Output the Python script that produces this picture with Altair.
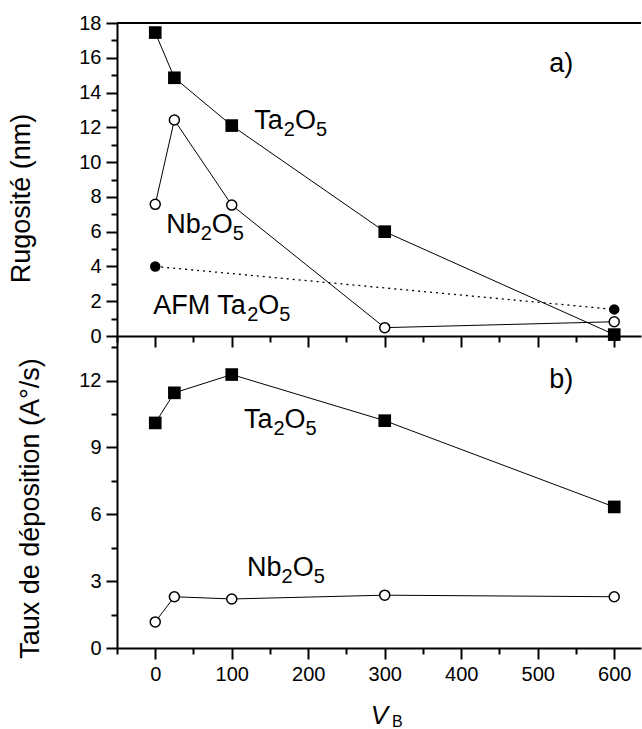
import altair as alt
import pandas as pd

# ---------------- data ----------------
vb = [0, 25, 100, 300, 600]
rug_ta = [17.45, 14.85, 12.1, 6.0, 0.08]
rug_nb = [7.57, 12.42, 7.53, 0.48, 0.82]
afm_vb = [0, 600]
afm_ta = [4.0, 1.53]
dep_ta = [10.1, 11.45, 12.27, 10.2, 6.33]
dep_nb = [1.17, 2.3, 2.2, 2.37, 2.3]

x_ticks = [-50, 0, 50, 100, 150, 200, 250, 300, 350, 400, 450, 500, 550, 600]
rug_ticks = [0, 1, 2, 3, 4, 5, 6, 7, 8, 9, 10, 11, 12, 13, 14, 15, 16, 17, 18]
dep_ticks = [0, 1.5, 3, 4.5, 6, 7.5, 9, 10.5, 12, 13.5]

# annotation anchors (data coordinates)
top_notes = [("Ta2O5", 129.5, 11.9), ("Nb2O5", 14.4, 5.94), ("AFM Ta2O5", -2.6, 1.26), ("a)", 515, 15.2)]
bot_notes = [("Ta2O5", 116, 9.87), ("Nb2O5", 120, 3.22), ("b)", 515, 11.67)]

# ---------------- style ----------------
FONT = "Liberation Sans"
W = 524
H1 = 313
H2 = 312
XMAX = 635
MAIN = 27
SUB = 20
SUB_DY = 7

# segments for formulas: (text, dx, is_sub)
SEGMENTS = {
    "Ta2O5": [("Ta", 0, False), ("2", 29.5, True), ("O", 40.6, False), ("5", 61.6, True)],
    "Nb2O5": [("Nb", 0, False), ("2", 34.5, True), ("O", 45.6, False), ("5", 66.6, True)],
    "AFM Ta2O5": [("AFM Ta", 0, False), ("2", 94, True), ("O", 105.1, False), ("5", 126.1, True)],
    "a)": [("a)", 0, False)],
    "b)": [("b)", 0, False)],
}

xscale = alt.Scale(domain=[-50, XMAX], nice=False, zero=False)

major_x = "datum.value % 100 === 0"

AX = dict(
    grid=False,
    domainColor="black",
    domainWidth=2,
    tickColor="black",
    tickWidth=2,
    labelColor="black",
    labelFont=FONT,
    labelFontSize=20,
    labelPadding=5,
    labelOverlap=False,
    labelFlush=False,
    titleColor="black",
    titleFont=FONT,
    titleFontWeight="normal",
)


def x_axis(show_labels):
    kw = dict(
        values=x_ticks,
        labelExpr="datum.value >= 0 && " + major_x + " ? datum.label : ''",
        tickSize={"condition": {"test": major_x, "value": 11}, "value": 6},
        labels=show_labels,
        **AX,
    )
    if show_labels:
        kw.update(title="V", titleFontStyle="italic", titleFontSize=26, titlePadding=18)
    else:
        kw.update(title=None)
    return alt.Axis(**kw)


def y_axis(ticks, step, title, tx, ty):
    test = "datum.value %% %s === 0" % step
    return alt.Axis(
        values=ticks,
        labelExpr=test + " ? datum.label : ''",
        tickSize={"condition": {"test": test, "value": 11}, "value": 6},
        title=title,
        titleX=tx,
        titleY=ty,
        titleBaseline="alphabetic",
        titleFontSize=27,
        **AX,
    )


def panel(series, ydom, yaxis, xaxis, notes, height, extras):
    def enc(ch):
        return ch.encode(
            x=alt.X("vb:Q", scale=xscale, axis=xaxis),
            y=alt.Y("val:Q", scale=alt.Scale(domain=ydom, nice=False, zero=False), axis=yaxis),
        )

    layers = []
    # lines first
    for xs, ys, kind in series:
        df = pd.DataFrame({"vb": xs, "val": ys})
        if kind == "afm":
            layers.append(enc(alt.Chart(df).mark_line(color="black", strokeWidth=1.3, strokeDash=[2, 4])))
        else:
            layers.append(enc(alt.Chart(df).mark_line(color="black", strokeWidth=1)))
    # points
    for xs, ys, kind in series:
        df = pd.DataFrame({"vb": xs, "val": ys})
        if kind == "square":
            m = alt.Chart(df).mark_point(shape="square", filled=True, size=160, color="black", opacity=1)
        elif kind == "open":
            m = alt.Chart(df).mark_point(shape="circle", filled=True, size=100, fill="white",
                                         stroke="black", strokeWidth=1.5, opacity=1)
        else:
            m = alt.Chart(df).mark_point(shape="circle", filled=True, size=110, color="black", opacity=1)
        layers.append(enc(m))
    # annotations
    for key, ax, ay in notes:
        df = pd.DataFrame({"vb": [ax], "val": [ay]})
        for text, dx, is_sub in SEGMENTS[key]:
            layers.append(enc(alt.Chart(df).mark_text(
                text=text, dx=dx, dy=SUB_DY if is_sub else 0, align="left",
                baseline="alphabetic", font=FONT, fontSize=SUB if is_sub else MAIN, color="black")))
    layers.extend(extras)
    return alt.layer(*layers).properties(width=W, height=height)


one = pd.DataFrame({"k": [0]})

# top frame line and layout anchor
top_frame = alt.Chart(one).mark_rule(color="black", strokeWidth=2).encode(
    x=alt.value(0), x2=alt.value(W), y=alt.value(0))
anchor = alt.Chart(one).mark_rule(color="white", strokeWidth=0.5).encode(
    x=alt.value(-116), x2=alt.value(-115), y=alt.value(-22))
sub_b = alt.Chart(one).mark_text(text="B", align="left", baseline="alphabetic", font=FONT,
                                 fontSize=16, color="black").encode(
    x=alt.value(275), y=alt.value(H2 + 79))

top = panel(
    [(vb, rug_ta, "square"), (vb, rug_nb, "open"), (afm_vb, afm_ta, "afm")],
    [0, 18],
    y_axis(rug_ticks, 2, "Rugosité (nm)", -88, 175),
    x_axis(False),
    top_notes, H1, [top_frame, anchor],
)

bottom = panel(
    [(vb, dep_ta, "square"), (vb, dep_nb, "open")],
    [0, 14],
    y_axis(dep_ticks, 3, "Taux de déposition (A°/s)", -79, 172),
    x_axis(True),
    bot_notes, H2, [sub_b],
)

chart = alt.vconcat(top, bottom, spacing=0, bounds="flush").properties(
    padding={"left": 0, "top": 0, "right": 0, "bottom": 0},
    background="white",
).configure_view(stroke=None).configure_axis(grid=False)

chart.save("out.html", embed_options={"renderer": "svg", "actions": False})
